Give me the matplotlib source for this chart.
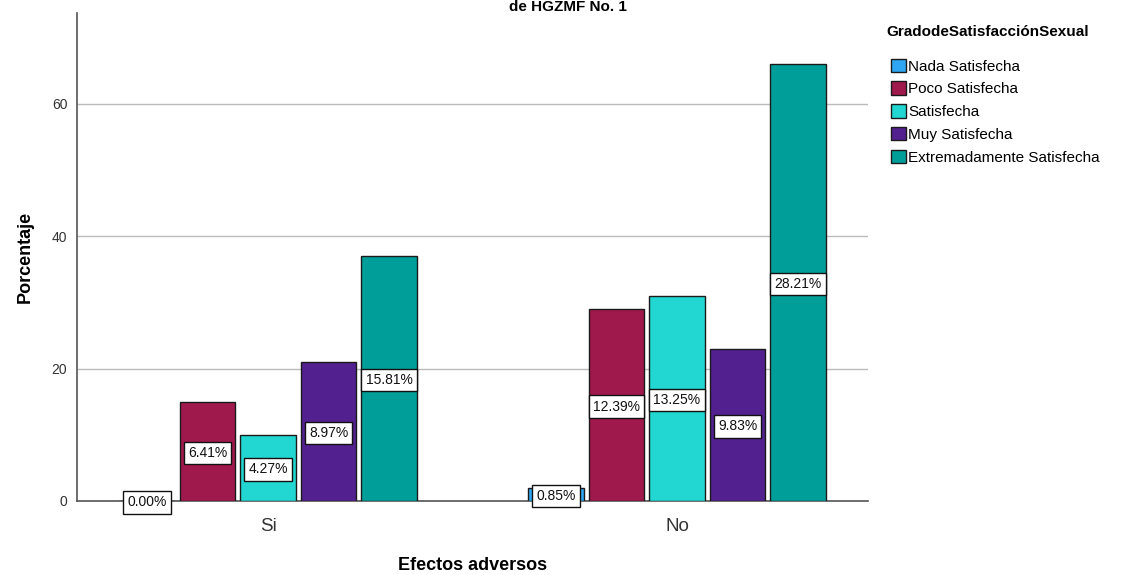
import matplotlib.pyplot as plt
import numpy as np
from matplotlib.patches import Patch

plt.rcParams["font.family"] = ["Liberation Sans", "DejaVu Sans"]

groups = ["Si", "No"]
levels = [
    "Nada Satisfecha",
    "Poco Satisfecha",
    "Satisfecha",
    "Muy Satisfecha",
    "Extremadamente Satisfecha",
]
colors = ["#2ea6f2", "#a0194c", "#22d6d1", "#52208f", "#009e99"]

# bar heights per level, [Si, No]
heights = {
    "Nada Satisfecha": [0, 2],
    "Poco Satisfecha": [15, 29],
    "Satisfecha": [10, 31],
    "Muy Satisfecha": [21, 23],
    "Extremadamente Satisfecha": [37, 66],
}
# percent labels shown on bars
pct_labels = {
    "Nada Satisfecha": ["0.00%", "0.85%"],
    "Poco Satisfecha": ["6.41%", "12.39%"],
    "Satisfecha": ["4.27%", "13.25%"],
    "Muy Satisfecha": ["8.97%", "9.83%"],
    "Extremadamente Satisfecha": ["15.81%", "28.21%"],
}

fig = plt.figure(figsize=(11.35, 5.75), dpi=100)
ax = fig.add_axes([77 / 1135, 74 / 575, 791 / 1135, 488 / 575])

x = np.arange(len(groups))
width = 0.135
step = 0.148

for i, lev in enumerate(levels):
    pos = x + (i - 2) * step
    h = heights[lev]
    ax.bar(pos, h, width=width, color=colors[i], edgecolor="#1a1a1a",
           linewidth=1.0, zorder=3)
    for p, v, lab in zip(pos, h, pct_labels[lev]):
        ax.text(p, v / 2, lab, ha="center", va="center_baseline", fontsize=10,
                color="#111111", zorder=5,
                bbox=dict(boxstyle="square,pad=0.3", fc="white",
                          ec="#111111", lw=1.0))

ax.set_xlim(-0.467, 1.467)
ax.set_ylim(0, 73.75)
ax.set_yticks([0, 20, 40, 60])
ax.set_xticks(x)
ax.set_xticklabels(groups, fontsize=13.5, color="#333333")
ax.tick_params(axis="x", length=0, pad=12)
ax.tick_params(axis="y", length=0, pad=7, labelsize=10, labelcolor="#333333")
ax.yaxis.grid(True, color="#bbbbbb", linewidth=1.0, zorder=0)
ax.set_axisbelow(True)
for side in ["top", "right"]:
    ax.spines[side].set_visible(False)
for side in ["left", "bottom"]:
    ax.spines[side].set_color("#555555")
    ax.spines[side].set_linewidth(1.2)

ax.set_xlabel("Efectos adversos", fontsize=13, fontweight="bold", labelpad=16)
ax.set_ylabel("Porcentaje", fontsize=13, fontweight="bold", labelpad=13)

# title sits at the very top edge, as in the original export
fig.text(0.5, 1 - 11 / 575, "de HGZMF No. 1", ha="center", va="baseline",
         fontsize=11, fontweight="bold")

fig.text(886 / 1135, 1 - 32 / 575, "GradodeSatisfacciónSexual", ha="left",
         va="center", fontsize=11, fontweight="bold")
handles = [Patch(facecolor=c, edgecolor="#1a1a1a", linewidth=1.0) for c in colors]
leg = fig.legend(handles, levels, loc="upper left",
                 bbox_to_anchor=(880 / 1135, 1 - 48 / 575), frameon=False,
                 fontsize=11, handlelength=1.0, handleheight=1.0,
                 handletextpad=0.15, labelspacing=0.5, borderpad=0.2)

fig.savefig("out.png", dpi=100)
